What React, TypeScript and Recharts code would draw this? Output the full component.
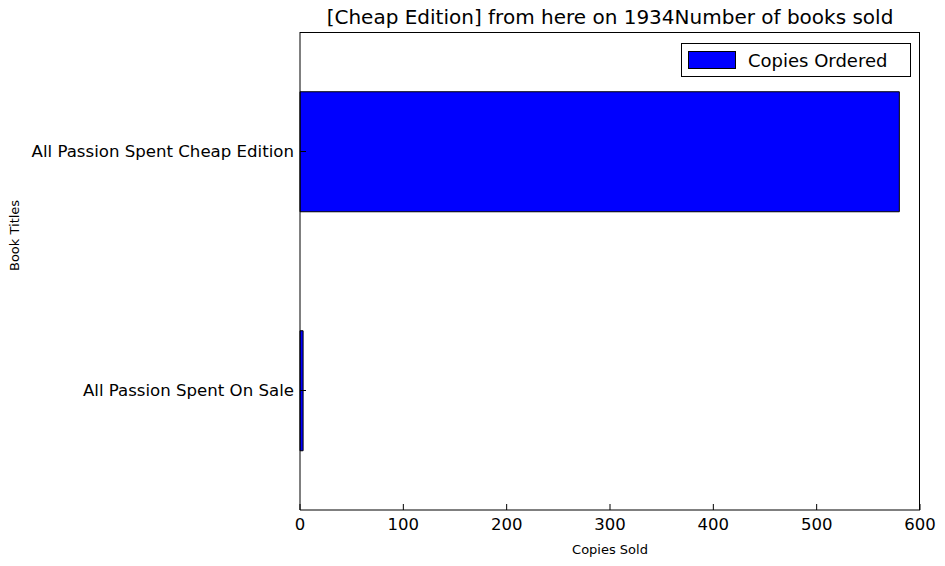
import React from 'react';
import { BarChart, Bar, XAxis, YAxis } from 'recharts';

const titles = ['All Passion Spent Cheap Edition', 'All Passion Spent On Sale'];
const copies = [580, 3];
const xTicks = [0, 100, 200, 300, 400, 500, 600];

const data = titles.map((title, i) => ({ title, copies: copies[i] }));

const font = 'DejaVu Sans, sans-serif';

export default function App() {
  return (
    <div style={{ position: 'absolute', left: 0, top: 0, width: 945, height: 566, background: '#fff', fontFamily: font }}>
      <div style={{ position: 'absolute', left: 300, width: 620, top: 5, textAlign: 'center', fontSize: 20 }}>
        [Cheap Edition] from here on 1934Number of books sold
      </div>
      <BarChart
        width={945}
        height={566}
        data={data}
        layout="vertical"
        barCategoryGap="25%"
        margin={{ top: 32, right: 25, bottom: 0, left: 0 }}
      >
        <XAxis
          type="number"
          domain={[0, 600]}
          ticks={xTicks}
          height={56}
          tickSize={-6}
          tickMargin={14}
          stroke="#000"
          tick={{ fill: '#000', fontSize: 16.5, fontFamily: font }}
          label={{ value: 'Copies Sold', position: 'insideBottom', offset: 12, fill: '#000', fontSize: 13, fontFamily: font }}
        />
        <YAxis
          type="category"
          dataKey="title"
          width={300}
          tickSize={-6}
          tickMargin={12}
          stroke="#000"
          tick={{ fill: '#000', fontSize: 16.6, fontFamily: font }}
          label={{ value: 'Book Titles', angle: -90, position: 'insideLeft', offset: 14, fill: '#000', fontSize: 13, fontFamily: font }}
        />
        <Bar dataKey="copies" fill="#0000ff" stroke="#000" strokeWidth={1} isAnimationActive={false} />
      </BarChart>
      <div style={{ position: 'absolute', left: 300, top: 32, width: 619, height: 477, border: '1px solid #000', borderLeft: 'none', borderBottom: 'none', pointerEvents: 'none' }} />
      <div style={{ position: 'absolute', left: 681, top: 43, width: 228, height: 32, border: '1px solid #000', background: '#fff', display: 'flex', alignItems: 'center', fontSize: 18 }}>
        <span style={{ display: 'inline-block', width: 46, height: 16, background: '#0000ff', border: '1px solid #000', marginLeft: 6, marginRight: 12 }} />
        Copies Ordered
      </div>
    </div>
  );
}
